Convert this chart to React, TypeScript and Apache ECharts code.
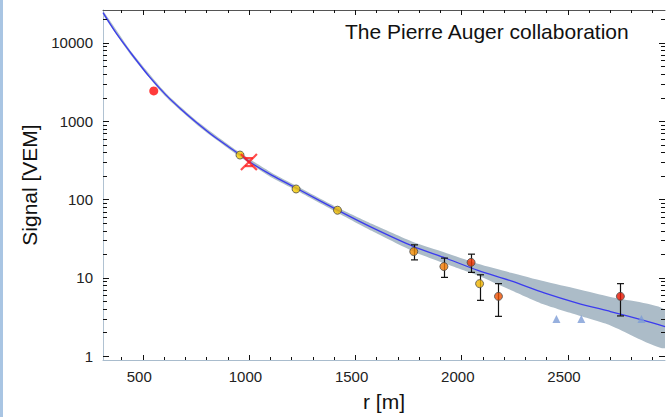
import { useEffect, useRef } from 'react';
import * as echarts from 'echarts';

// Fitted lateral distribution function
const curveR = [313, 375, 453, 531, 610, 687, 766, 844, 953, 1000, 1109, 1222, 1422, 1578, 1776, 1922, 2078, 2234, 2390, 2546, 2702, 2859, 2959];
const curveS = [24300, 13300, 6900, 3700, 2150, 1370, 900, 612, 380, 305, 203, 140, 72, 44, 25, 18, 12.4, 9.1, 6.4, 4.75, 3.7, 2.86, 2.38];

// Uncertainty band of the fit
const bandR = [313, 453, 610, 766, 953, 1109, 1222, 1422, 1578, 1776, 1922, 2078, 2234, 2390, 2546, 2702, 2959];
const bandLow = [22930, 6510, 2030, 850, 359, 189, 131, 66.8, 39.7, 21.5, 15.2, 10.7, 6.93, 4.54, 3.33, 2.46, 1.26];
const bandHigh = [25750, 7310, 2280, 954, 403, 218, 150, 77.6, 48.8, 28.4, 21.0, 15.1, 11.6, 9.0, 7.17, 5.66, 3.88];

// Triggered stations
const stationR = [958, 1222, 1417, 1776, 1918, 2046, 2086, 2175, 2749];
const stationS = [369, 136, 72.8, 21.6, 13.9, 15.7, 8.4, 5.78, 5.78];
const stationLow = [null, null, null, 16.9, 10.1, 11.7, 5.14, 3.21, 3.25];
const stationHigh = [null, null, null, 26.3, 17.8, 20.0, 10.9, 8.4, 8.4];

// Saturated station
const saturatedR = [552];
const saturatedS = [2430];

// Silent stations (upper limits)
const silentR = [2448, 2565, 2848];
const silentS = [2.98, 2.98, 2.98];

// S(1000) estimate
const s1000R = [1000];
const s1000S = [300];

// Tick values
const xMajorTicks = [500, 1000, 1500, 2000, 2500];
const xMinorTicks = [400, 600, 700, 800, 900, 1100, 1200, 1300, 1400, 1600, 1700, 1800, 1900, 2100, 2200, 2300, 2400, 2600, 2700, 2800, 2900];
const yMajorTicks = [1, 10, 100, 1000, 10000];
const yMinorTicks = [2, 3, 4, 5, 6, 7, 8, 9, 20, 30, 40, 50, 60, 70, 80, 90, 200, 300, 400, 500, 600, 700, 800, 900, 2000, 3000, 4000, 5000, 6000, 7000, 8000, 9000, 20000];

// Styles
const stationColors = ['#f5cc00', '#f5c800', '#f0bc00', '#f08a00', '#f07800', '#f03400', '#f0b400', '#f05000', '#e81400'];
const FONT = '"Liberation Sans", Arial, Helvetica, sans-serif';

const X_MIN = 313;
const X_MAX = 2959;
const Y_MIN = 0.889;
const Y_MAX = 26300;

export default function App() {
  const ref = useRef<HTMLDivElement>(null);

  useEffect(() => {
    if (!ref.current) return;
    const chart = echarts.init(ref.current, null, { renderer: 'svg' });

    const tickData: number[][] = [
      ...xMajorTicks.map((v) => [v, 10, 0]),
      ...xMinorTicks.map((v) => [v, 10, 1]),
      ...yMajorTicks.map((v) => [1000, v, 2]),
      ...yMinorTicks.map((v) => [1000, v, 3]),
    ];

    const errData = stationR
      .map((r, i) => [r, stationLow[i], stationHigh[i]])
      .filter((d) => d[1] != null);

    const option: any = {
      animation: false,
      backgroundColor: '#ffffff',
      title: {
        text: 'The Pierre Auger collaboration',
        left: 345,
        top: 21,
        padding: 0,
        textStyle: { fontSize: 21, fontWeight: 'normal', fontFamily: FONT, color: '#111' },
      },
      graphic: [
        { type: 'rect', left: 0, top: 0, shape: { width: 3, height: 417 }, style: { fill: '#a9c5e3' } },
      ],
      grid: { left: 103, top: 10, right: 0, bottom: 57, containLabel: false },
      xAxis: [
        {
          type: 'value',
          position: 'bottom',
          min: X_MIN,
          max: X_MAX,
          splitNumber: 5,
          name: 'r [m]',
          nameLocation: 'middle',
          nameGap: 31,
          nameTextStyle: { fontSize: 21, fontFamily: FONT, color: '#111' },
          axisLine: { lineStyle: { color: '#a9bccd', width: 1 } },
          axisTick: { show: false },
          splitLine: { show: false },
          axisLabel: {
            fontSize: 15,
            fontFamily: FONT,
            color: '#222',
            margin: 9,
            padding: [0, 7, 0, 0],
            formatter: (v: number) => (Math.abs(v % 500) < 1e-6 ? String(Math.round(v)) : ''),
          },
        },
        {
          type: 'value',
          position: 'top',
          min: X_MIN,
          max: X_MAX,
          axisLine: { lineStyle: { color: '#555', width: 1 } },
          axisTick: { show: false },
          axisLabel: { show: false },
          splitLine: { show: false },
        },
      ],
      yAxis: [
        {
          type: 'log',
          logBase: 10,
          min: Y_MIN,
          max: Y_MAX,
          name: 'Signal [VEM]',
          nameLocation: 'middle',
          nameGap: 57,
          nameTextStyle: { fontSize: 21, fontFamily: FONT, color: '#111' },
          axisLine: { show: true, lineStyle: { color: '#b0c2d2', width: 1 } },
          axisTick: { show: false },
          splitLine: { show: false },
          axisLabel: {
            fontSize: 15,
            fontFamily: FONT,
            color: '#222',
            margin: 10,
            formatter: (v: number) => {
              const l = Math.log10(v);
              return Math.abs(l - Math.round(l)) < 1e-6 ? String(Math.round(v)) : '';
            },
          },
        },
        {
          type: 'log',
          logBase: 10,
          min: Y_MIN,
          max: Y_MAX,
          position: 'right',
          axisLine: { show: false },
          axisTick: { show: false },
          axisLabel: { show: false },
          splitLine: { show: false },
        },
      ],
      series: [
        {
          type: 'custom',
          name: 'band',
          clip: true,
          z: 1,
          data: [[bandR[0], bandLow[0]]],
          renderItem: (_params: any, api: any) => {
            const up = bandR.map((r, i) => api.coord([r, bandHigh[i]]));
            const lo = bandR.map((r, i) => api.coord([r, bandLow[i]])).reverse();
            return {
              type: 'polygon',
              shape: { points: [...up, ...lo], smooth: 0.2 },
              style: { fill: '#acbcc8', stroke: 'none' },
            };
          },
        },
        {
          type: 'line',
          name: 'fit',
          z: 2,
          data: curveR.map((r, i) => [r, curveS[i]]),
          smooth: 0.25,
          showSymbol: false,
          symbol: 'none',
          lineStyle: { color: '#3b3bef', width: 1.3 },
        },
        {
          type: 'custom',
          name: 'ticks',
          clip: false,
          z: 10,
          silent: true,
          data: tickData,
          encode: { x: 0, y: 1 },
          renderItem: (params: any, api: any) => {
            const cs = params.coordSys;
            const left = cs.x;
            const right = cs.x + cs.width;
            const top = cs.y;
            const bottom = cs.y + cs.height;
            const kind = api.value(2);
            const style = { stroke: '#111', lineWidth: 1 };
            const p = api.coord([api.value(0), api.value(1)]);
            if (kind < 2) {
              const len = kind === 0 ? 5 : 3;
              const px = Math.round(p[0]) + 0.5;
              return {
                type: 'group',
                children: [
                  { type: 'line', shape: { x1: px, y1: bottom, x2: px, y2: bottom - len }, style },
                  { type: 'line', shape: { x1: px, y1: top, x2: px, y2: top + len }, style },
                ],
              };
            }
            const len = kind === 2 ? 6 : 4;
            const py = Math.round(p[1]) + 0.5;
            return {
              type: 'group',
              children: [
                { type: 'line', shape: { x1: left, y1: py, x2: left + len, y2: py }, style },
                { type: 'line', shape: { x1: right, y1: py, x2: right - len, y2: py }, style },
              ],
            };
          },
        },
        {
          type: 'custom',
          name: 'errors',
          z: 4,
          data: errData,
          encode: { x: 0, y: [1, 2] },
          renderItem: (_params: any, api: any) => {
            const a = api.coord([api.value(0), api.value(2)]);
            const b = api.coord([api.value(0), api.value(1)]);
            const x = Math.round(a[0]) + 0.5;
            const style = { stroke: '#111', lineWidth: 1.2 };
            return {
              type: 'group',
              children: [
                { type: 'line', shape: { x1: x, y1: a[1], x2: x, y2: b[1] }, style },
                { type: 'line', shape: { x1: x - 3.5, y1: a[1], x2: x + 3.5, y2: a[1] }, style },
                { type: 'line', shape: { x1: x - 3.5, y1: b[1], x2: x + 3.5, y2: b[1] }, style },
              ],
            };
          },
        },
        {
          type: 'scatter',
          name: 'saturated',
          z: 5,
          symbolSize: 9,
          data: saturatedR.map((r, i) => [r, saturatedS[i]]),
          itemStyle: { color: '#ff0a0a', borderWidth: 0 },
        },
        {
          type: 'scatter',
          name: 'stations',
          z: 5,
          symbolSize: 8,
          data: stationR.map((r, i) => ({ value: [r, stationS[i]], itemStyle: { color: stationColors[i] } })),
          itemStyle: { borderColor: '#4a4a4a', borderWidth: 1 },
        },
        {
          type: 'scatter',
          name: 'silent',
          z: 5,
          symbol: 'triangle',
          symbolSize: 8,
          data: silentR.map((r, i) => [r, silentS[i]]),
          itemStyle: { color: '#7d9cd6' },
        },
        {
          type: 'custom',
          name: 'S1000',
          z: 6,
          data: s1000R.map((r, i) => [r, s1000S[i]]),
          renderItem: (_params: any, api: any) => {
            const c = api.coord([api.value(0), api.value(1)]);
            const style = { stroke: 'rgba(255,30,30,0.8)', lineWidth: 2.2 };
            const d = 8;
            return {
              type: 'group',
              children: [
                { type: 'line', shape: { x1: c[0] - d, y1: c[1] - d, x2: c[0] + d, y2: c[1] + d }, style },
                { type: 'line', shape: { x1: c[0] - d, y1: c[1] + d, x2: c[0] + d, y2: c[1] - d }, style },
                { type: 'line', shape: { x1: c[0] - 4, y1: c[1] - 4, x2: c[0] + 4, y2: c[1] - 4 }, style },
                { type: 'line', shape: { x1: c[0] - 4, y1: c[1] + 4, x2: c[0] + 4, y2: c[1] + 4 }, style },
              ],
            };
          },
        },
      ],
    };

    chart.setOption(option);
    return () => chart.dispose();
  }, []);

  return (
    <div
      ref={ref}
      style={{ position: 'fixed', left: 0, top: 0, width: 668, height: 417, background: '#fff' }}
    />
  );
}
